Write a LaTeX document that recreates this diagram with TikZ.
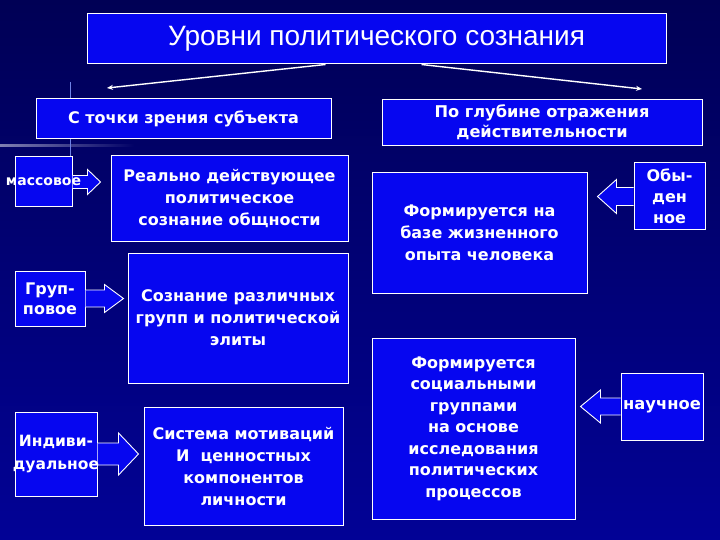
\documentclass[tikz,border=0pt]{standalone}
\usepackage{fontspec}
\setmainfont{DejaVu Sans}
\newfontfamily\titlefont{Liberation Sans}
\usetikzlibrary{calc,arrows.meta,fadings}
\definecolor{boxblue}{RGB}{6,6,240}
\definecolor{bgtop}{RGB}{0,0,85}
\definecolor{bgbot}{RGB}{2,2,150}
\tikzset{
  box/.style={draw=white, line width=1pt, fill=boxblue, text=white, align=center, inner sep=0pt, font=\bfseries\fontsize{16}{22}\selectfont},
  lbl/.style={text=white, align=center, inner sep=0pt, font=\bfseries\fontsize{15}{22}\selectfont},
  conn/.style={draw=white, line width=1.4pt, -{Stealth[length=6pt,width=5pt]}},
  barrowfill/.style={fill=boxblue},
  barrowline/.style={draw=white, line width=0.9pt, line join=miter}
}
% #1 start anchor, #2 direction (1 right, -1 left), #3 body length, #4 total length, #5 body half height, #6 head half height
\newcommand\blkarrow[6]{%
  \fill[barrowfill] ($(#1)+(0,-#5)$) -- ($(#1)+(#2*#3,-#5)$) -- ($(#1)+(#2*#3,-#6)$) -- ($(#1)+(#2*#4,0)$)
     -- ($(#1)+(#2*#3,#6)$) -- ($(#1)+(#2*#3,#5)$) -- ($(#1)+(0,#5)$) -- cycle;
  \draw[barrowline] ($(#1)+(0,-#5)$) -- ($(#1)+(#2*#3,-#5)$) -- ($(#1)+(#2*#3,-#6)$) -- ($(#1)+(#2*#4,0)$)
     -- ($(#1)+(#2*#3,#6)$) -- ($(#1)+(#2*#3,#5)$) -- ($(#1)+(0,#5)$);
}
\begin{document}
\begin{tikzpicture}[x=1pt,y=-1pt]
\useasboundingbox (0,0) rectangle (720,540);
\shade[top color=bgtop, bottom color=bgbot] (0,0) rectangle (720,540);
% background decoration
\fill[white, opacity=0.5, path fading=east] (0,144) rectangle (135,147);
\draw[color={rgb,255:red,110;green,130;blue,230}, line width=0.8pt] (70,82) -- (70,157);

% nodes
\node[box, minimum width=579, minimum height=50, font=\titlefont\fontsize{28}{32}\selectfont] (title) at (376.5,39) {Уровни политического сознания};
\node[box, minimum width=295, minimum height=40, font=\bfseries\fontsize{16}{20}\selectfont] (subL) at (183.5,119) {С точки зрения субъекта};
\node[box, minimum width=320, minimum height=46, font=\bfseries\fontsize{16.2}{20}\selectfont] (subR) at (542,122.5) {По глубине отражения\\действительности};

\node[box, minimum width=57, minimum height=50] (mass) at (43.5,182) {};
\node[box, minimum width=237, minimum height=85] (real) at (229.5,198.5) {Реально действующее\\политическое\\сознание общности};
\node[box, minimum width=70, minimum height=55] (grp) at (50,298.5) {};
\node[box, minimum width=220, minimum height=130] (grpc) at (238,318) {Сознание различных\\групп и политической\\элиты};
\node[box, minimum width=82, minimum height=84] (ind) at (56,454) {};
\node[box, minimum width=199, minimum height=118] (sys) at (243.5,466) {Система мотиваций\\И~~ценностных\\компонентов\\личности};

\node[box, minimum width=215, minimum height=120] (form1) at (479.5,233) {Формируется на\\базе жизненного\\опыта человека};
\node[box, minimum width=71, minimum height=67] (obyd) at (669.5,196.5) {};
\node[box, minimum width=203, minimum height=181, font=\bfseries\fontsize{16}{21.5}\selectfont] (form2) at (473.5,428.5) {Формируется\\социальными\\группами\\на основе\\исследования\\политических\\процессов};
\node[box, minimum width=82, minimum height=67] (nauch) at (662,406.5) {};

% connectors from title
\coordinate (aL) at (107,88);
\coordinate (aR) at (642,89);
\draw[conn] ($(title.south west)+(239,0)$) -- (aL);
\draw[conn] ($(title.south west)+(335,0)$) -- (aR);

% block arrows
\blkarrow{mass.east}{1}{15}{28}{6.5}{12.5}
\blkarrow{grp.east}{1}{19}{38}{8.5}{14}
\blkarrow{ind.east}{1}{21}{41}{11}{21}
\blkarrow{obyd.west}{-1}{17}{36}{9}{17}
\blkarrow{nauch.west}{-1}{20}{40}{8.5}{16.5}

% labels on the small boxes
\node[lbl, font=\bfseries\fontsize{14}{20}\selectfont] (massT) at (mass.center) {массовое};
\node[lbl, font=\bfseries\fontsize{16}{20}\selectfont] (grpT) at (grp.center) {Груп-\\повое};
\node[lbl, font=\bfseries\fontsize{15.5}{22.5}\selectfont] (indT) at (ind.center) {Индиви-\\дуальное};
\node[lbl, font=\bfseries\fontsize{16}{21}\selectfont] (obydT) at (obyd.center) {Обы-\\ден\\ное};
\node[lbl, font=\bfseries\fontsize{16.3}{20}\selectfont] (nauchT) at (nauch.center) {научное};
\end{tikzpicture}
\end{document}
